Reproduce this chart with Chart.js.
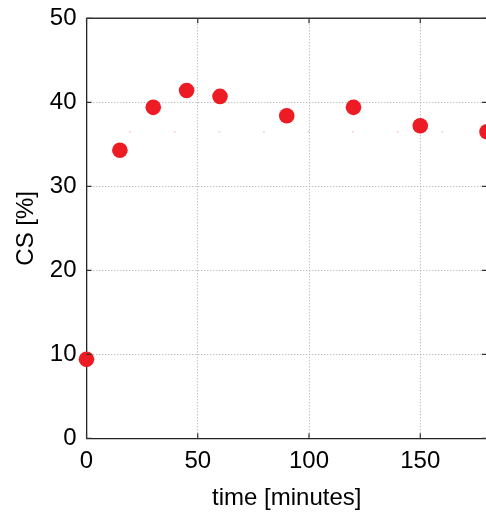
<!DOCTYPE html>
<html>
<head>
  <meta charset="utf-8">
  <title>CS over time</title>
  <style>
    html, body {
      margin: 0;
      padding: 0;
      background: #fff;
      overflow: hidden;
    }
    .chart-box {
      width: 500px;
      height: 513px;
      position: relative;
    }
  </style>
</head>
<body>
  <div class="chart-box">
    <canvas id="csChart"></canvas>
  </div>

  <script src="https://cdn.jsdelivr.net/npm/chart.js@4/dist/chart.umd.min.js"></script>
  <script>
    const timeMinutes = [0, 15, 30, 45, 60, 90, 120, 150, 180];
    const csPercent = [9.4, 34.3, 39.4, 41.4, 40.7, 38.4, 39.4, 37.2, 36.5];
    // schwache gepunktete Linie auf ca. 36.5 %
    const levelTimes = [0, 180];
    const levelValues = [36.5, 36.5];
    const xTicks = [0, 50, 100, 150];
    const yTicks = [0, 10, 20, 30, 40, 50];

    const FONT = '"Liberation Sans", Arial, sans-serif';

    // Rahmen oben/rechts und nach innen zeigende Ticks (wie MATLAB)
    const frameTicks = {
      id: 'frameTicks',
      afterDatasetsDraw(chart) {
        const { ctx, chartArea: a, scales: { x, y } } = chart;
        const len = 5;
        ctx.save();
        ctx.strokeStyle = '#333';
        ctx.lineWidth = 1.5;
        ctx.beginPath();
        ctx.moveTo(a.left, a.top);
        ctx.lineTo(a.right, a.top);
        ctx.lineTo(a.right, a.bottom);
        ctx.stroke();
        ctx.lineWidth = 1.2;
        ctx.beginPath();
        xTicks.forEach(v => {
          const px = x.getPixelForValue(v);
          ctx.moveTo(px, a.bottom);
          ctx.lineTo(px, a.bottom - len);
          ctx.moveTo(px, a.top);
          ctx.lineTo(px, a.top + len);
        });
        yTicks.forEach(v => {
          const py = y.getPixelForValue(v);
          ctx.moveTo(a.left, py);
          ctx.lineTo(a.left + len, py);
          ctx.moveTo(a.right, py);
          ctx.lineTo(a.right - len, py);
        });
        ctx.stroke();
        ctx.restore();
      }
    };

    const gridColor = c => (c.tick && c.tick.value > 0 ? '#a8a8a8' : 'rgba(0,0,0,0)');

    const ctx = document.getElementById('csChart').getContext('2d');
    const csChart = new Chart(ctx, {
      type: 'scatter',
      data: {
        datasets: [
          {
            label: 'level',
            type: 'line',
            data: levelTimes.map((t, i) => ({ x: t, y: levelValues[i] })),
            borderColor: 'rgba(240, 120, 120, 0.35)',
            borderWidth: 1.5,
            borderDash: [2, 42.6],
            borderDashOffset: 2,
            pointRadius: 0,
            fill: false,
            order: 2
          },
          {
            label: 'CS [%]',
            data: timeMinutes.map((t, i) => ({ x: t, y: csPercent[i] })),
            backgroundColor: '#ed1c24',
            borderColor: '#ed1c24',
            borderWidth: 0,
            pointRadius: 7.8,
            pointHoverRadius: 7.8,
            clip: false,
            order: 1
          }
        ]
      },
      options: {
        responsive: true,
        maintainAspectRatio: false,
        animation: false,
        layout: { padding: { top: 18.3, right: 13, left: 0, bottom: 0 } },
        plugins: {
          legend: { display: false },
          tooltip: { enabled: false }
        },
        scales: {
          x: {
            type: 'linear',
            min: 0,
            max: 180,
            afterBuildTicks: s => { s.ticks = xTicks.map(v => ({ value: v })); },
            afterFit: s => { s.height = 74.7; s.paddingLeft = 0; s.paddingRight = 0; },
            ticks: {
              color: '#000',
              font: { family: FONT, size: 24 },
              padding: 9,
              maxRotation: 0
            },
            grid: { color: gridColor, lineWidth: 1, drawTicks: false },
            // in v4 gilt border.dash fuer die Gitterlinien
            border: { display: true, color: '#222', width: 1.3, dash: [1, 2] },
            title: {
              display: true,
              text: 'time [minutes]',
              color: '#000',
              font: { family: FONT, size: 24 },
              padding: { top: 4, bottom: 0 }
            }
          },
          y: {
            min: 0,
            max: 50,
            afterBuildTicks: s => { s.ticks = yTicks.map(v => ({ value: v })); },
            afterFit: s => { s.width = 86.5; s.paddingTop = 0; s.paddingBottom = 0; },
            ticks: {
              color: '#000',
              font: { family: FONT, size: 24 },
              padding: 10
            },
            grid: { color: gridColor, lineWidth: 1, drawTicks: false },
            border: { display: true, color: '#222', width: 1.3, dash: [1, 2] },
            title: {
              display: true,
              text: 'CS [%]',
              color: '#000',
              font: { family: FONT, size: 24 },
              padding: { top: 12, bottom: 0 }
            }
          }
        }
      },
      plugins: [frameTicks]
    });
  </script>
</body>
</html>
